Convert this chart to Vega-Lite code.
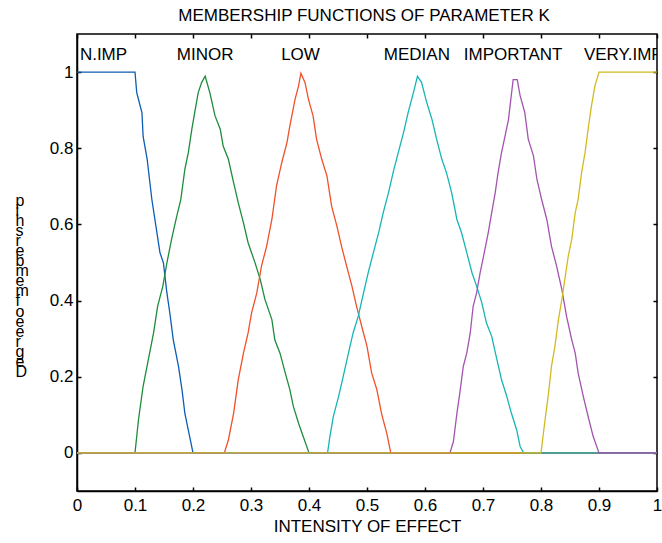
{
  "$schema": "https://vega.github.io/schema/vega-lite/v6.json",
  "width": 580,
  "height": 457,
  "autosize": "none",
  "padding": {"left": 77, "top": 34, "right": 5, "bottom": 52},
  "background": "#ffffff",
  "config": {
    "view": {"stroke": "#000000", "strokeWidth": 1.5},
    "font": "Liberation Sans",
    "axis": {
      "domainColor": "#000000", "domainWidth": 1.5,
      "tickColor": "#000000", "tickWidth": 1.5, "tickSize": -4,
      "labelColor": "#000000", "labelFontSize": 17, "labelFont": "Liberation Sans",
      "titleColor": "#000000", "titleFontSize": 17, "titleFontWeight": "normal", "titleFont": "Liberation Sans",
      "grid": false
    }
  },
  "title": {"text": "MEMBERSHIP FUNCTIONS OF PARAMETER K", "fontSize": 17, "fontWeight": "normal", "font": "Liberation Sans", "color": "#000000", "offset": 8, "dx": -3},
  "datasets": {
    "nimp": [
      {"x":0,"y":1},{"x":0.1,"y":1},{"x":0.103,"y":0.946},{"x":0.112,"y":0.893},{"x":0.114,"y":0.831},{"x":0.121,"y":0.771},{"x":0.129,"y":0.666},{"x":0.136,"y":0.596},{"x":0.143,"y":0.526},{"x":0.149,"y":0.499},{"x":0.155,"y":0.42},{"x":0.16,"y":0.368},{"x":0.166,"y":0.297},{"x":0.175,"y":0.227},{"x":0.181,"y":0.166},{"x":0.186,"y":0.104},{"x":0.193,"y":0.052},{"x":0.2,"y":0},{"x":1,"y":0}
    ],
    "minor": [
      {"x":0,"y":0},{"x":0.1,"y":0},{"x":0.106,"y":0.087},{"x":0.114,"y":0.175},{"x":0.123,"y":0.245},{"x":0.132,"y":0.315},{"x":0.139,"y":0.385},{"x":0.148,"y":0.438},{"x":0.155,"y":0.499},{"x":0.163,"y":0.561},{"x":0.172,"y":0.622},{"x":0.179,"y":0.666},{"x":0.186,"y":0.745},{"x":0.192,"y":0.789},{"x":0.198,"y":0.85},{"x":0.203,"y":0.894},{"x":0.209,"y":0.946},{"x":0.215,"y":0.973},{"x":0.221,"y":0.989},{"x":0.229,"y":0.946},{"x":0.238,"y":0.885},{"x":0.247,"y":0.85},{"x":0.252,"y":0.806},{"x":0.261,"y":0.771},{"x":0.27,"y":0.71},{"x":0.278,"y":0.657},{"x":0.287,"y":0.604},{"x":0.295,"y":0.552},{"x":0.307,"y":0.499},{"x":0.316,"y":0.455},{"x":0.324,"y":0.403},{"x":0.336,"y":0.35},{"x":0.341,"y":0.297},{"x":0.35,"y":0.262},{"x":0.359,"y":0.21},{"x":0.367,"y":0.166},{"x":0.373,"y":0.122},{"x":0.382,"y":0.078},{"x":0.39,"y":0.043},{"x":0.4,"y":0},{"x":1,"y":0}
    ],
    "low": [
      {"x":0,"y":0},{"x":0.254,"y":0},{"x":0.261,"y":0.034},{"x":0.27,"y":0.104},{"x":0.278,"y":0.192},{"x":0.287,"y":0.262},{"x":0.295,"y":0.315},{"x":0.301,"y":0.368},{"x":0.31,"y":0.42},{"x":0.318,"y":0.49},{"x":0.327,"y":0.543},{"x":0.336,"y":0.613},{"x":0.344,"y":0.701},{"x":0.353,"y":0.762},{"x":0.362,"y":0.815},{"x":0.367,"y":0.859},{"x":0.376,"y":0.929},{"x":0.382,"y":0.964},{"x":0.386,"y":0.997},{"x":0.393,"y":0.973},{"x":0.399,"y":0.929},{"x":0.407,"y":0.885},{"x":0.413,"y":0.824},{"x":0.422,"y":0.771},{"x":0.431,"y":0.727},{"x":0.439,"y":0.648},{"x":0.448,"y":0.596},{"x":0.456,"y":0.543},{"x":0.465,"y":0.49},{"x":0.474,"y":0.438},{"x":0.482,"y":0.385},{"x":0.491,"y":0.332},{"x":0.5,"y":0.28},{"x":0.508,"y":0.21},{"x":0.517,"y":0.166},{"x":0.525,"y":0.104},{"x":0.534,"y":0.052},{"x":0.541,"y":0},{"x":1,"y":0}
    ],
    "median": [
      {"x":0,"y":0},{"x":0.432,"y":0},{"x":0.436,"y":0.043},{"x":0.442,"y":0.096},{"x":0.451,"y":0.148},{"x":0.459,"y":0.201},{"x":0.468,"y":0.262},{"x":0.476,"y":0.315},{"x":0.485,"y":0.359},{"x":0.494,"y":0.42},{"x":0.502,"y":0.473},{"x":0.511,"y":0.526},{"x":0.52,"y":0.578},{"x":0.528,"y":0.631},{"x":0.537,"y":0.683},{"x":0.545,"y":0.736},{"x":0.554,"y":0.789},{"x":0.563,"y":0.841},{"x":0.571,"y":0.894},{"x":0.58,"y":0.946},{"x":0.587,"y":0.989},{"x":0.594,"y":0.973},{"x":0.603,"y":0.92},{"x":0.612,"y":0.876},{"x":0.62,"y":0.824},{"x":0.629,"y":0.771},{"x":0.637,"y":0.736},{"x":0.646,"y":0.683},{"x":0.655,"y":0.613},{"x":0.663,"y":0.578},{"x":0.672,"y":0.526},{"x":0.681,"y":0.473},{"x":0.689,"y":0.438},{"x":0.698,"y":0.394},{"x":0.706,"y":0.341},{"x":0.715,"y":0.306},{"x":0.724,"y":0.245},{"x":0.732,"y":0.192},{"x":0.741,"y":0.148},{"x":0.749,"y":0.104},{"x":0.758,"y":0.061},{"x":0.764,"y":0.017},{"x":0.77,"y":0},{"x":1,"y":0}
    ],
    "important": [
      {"x":0,"y":0},{"x":0.643,"y":0},{"x":0.649,"y":0.03},{"x":0.655,"y":0.104},{"x":0.66,"y":0.157},{"x":0.666,"y":0.227},{"x":0.672,"y":0.262},{"x":0.678,"y":0.315},{"x":0.683,"y":0.385},{"x":0.689,"y":0.42},{"x":0.695,"y":0.473},{"x":0.701,"y":0.517},{"x":0.709,"y":0.578},{"x":0.715,"y":0.631},{"x":0.721,"y":0.683},{"x":0.726,"y":0.736},{"x":0.732,"y":0.789},{"x":0.738,"y":0.832},{"x":0.744,"y":0.876},{"x":0.748,"y":0.929},{"x":0.752,"y":0.98},{"x":0.759,"y":0.98},{"x":0.764,"y":0.938},{"x":0.772,"y":0.894},{"x":0.778,"y":0.824},{"x":0.787,"y":0.78},{"x":0.793,"y":0.718},{"x":0.801,"y":0.666},{"x":0.81,"y":0.613},{"x":0.818,"y":0.543},{"x":0.827,"y":0.49},{"x":0.836,"y":0.429},{"x":0.844,"y":0.359},{"x":0.853,"y":0.297},{"x":0.859,"y":0.262},{"x":0.864,"y":0.21},{"x":0.873,"y":0.148},{"x":0.882,"y":0.091},{"x":0.89,"y":0.043},{"x":0.9,"y":0},{"x":1,"y":0}
    ],
    "veryimp": [
      {"x":0,"y":0},{"x":0.8,"y":0},{"x":0.807,"y":0.087},{"x":0.813,"y":0.157},{"x":0.818,"y":0.227},{"x":0.824,"y":0.28},{"x":0.83,"y":0.35},{"x":0.836,"y":0.403},{"x":0.841,"y":0.455},{"x":0.847,"y":0.517},{"x":0.853,"y":0.561},{"x":0.859,"y":0.631},{"x":0.864,"y":0.666},{"x":0.87,"y":0.736},{"x":0.876,"y":0.789},{"x":0.882,"y":0.859},{"x":0.887,"y":0.911},{"x":0.893,"y":0.964},{"x":0.9,"y":1},{"x":1,"y":1}
    ],
    "labels": [
      {"t":"N.IMP","x":0.005,"y":1.033},{"t":"MINOR","x":0.172,"y":1.033},{"t":"LOW","x":0.352,"y":1.033},{"t":"MEDIAN","x":0.529,"y":1.033},{"t":"IMPORTANT","x":0.667,"y":1.033},{"t":"VERY.IMP","x":0.874,"y":1.033}
    ]
  },
  "resolve": {"axis": {"x": "independent", "y": "independent"}},
  "layer": [
    {
      "data": {"name": "nimp"},
      "mark": {"type": "line", "color": "#0c5db5", "strokeWidth": 1.3},
      "encoding": {
        "x": {"field": "x", "type": "quantitative", "scale": {"domain": [0, 1], "nice": false},
              "axis": {"orient": "bottom", "values": [0,0.1,0.2,0.3,0.4,0.5,0.6,0.7,0.8,0.9,1], "format": "~g", "labelPadding": 10, "title": "INTENSITY OF EFFECT", "titlePadding": 5, "labelFlush": false, "labelOverlap": false}},
        "y": {"field": "y", "type": "quantitative", "scale": {"domain": [-0.1, 1.1], "nice": false, "zero": false},
              "axis": {"orient": "left", "values": [0,0.2,0.4,0.6,0.8,1], "format": "~g", "labelPadding": 8, "labelFlush": false, "labelOverlap": false,
                       "title": ["p","i","h","s","r","e","b","m","e","m","f","o","e","e","r","g","e","D"],
                       "titleAngle": 0, "titleAlign": "left", "titleBaseline": "alphabetic", "titleFontSize": 16, "titleLineHeight": 10.1, "titleX": -62, "titleY": 171}}
      }
    },
    {
      "data": {"name": "minor"},
      "mark": {"type": "line", "color": "#1e8c3c", "strokeWidth": 1.3},
      "encoding": {
        "x": {"field": "x", "type": "quantitative", "axis": {"orient": "top", "values": [0,0.1,0.2,0.3,0.4,0.5,0.6,0.7,0.8,0.9,1], "labels": false, "domain": false, "title": null}},
        "y": {"field": "y", "type": "quantitative", "axis": {"orient": "right", "values": [0,0.2,0.4,0.6,0.8,1], "labels": false, "domain": false, "title": null}}
      }
    },
    {
      "data": {"name": "low"},
      "mark": {"type": "line", "color": "#f2502a", "strokeWidth": 1.3},
      "encoding": {
        "x": {"field": "x", "type": "quantitative", "axis": null},
        "y": {"field": "y", "type": "quantitative", "axis": null}
      }
    },
    {
      "data": {"name": "median"},
      "mark": {"type": "line", "color": "#17b5b5", "strokeWidth": 1.3},
      "encoding": {
        "x": {"field": "x", "type": "quantitative", "axis": null},
        "y": {"field": "y", "type": "quantitative", "axis": null}
      }
    },
    {
      "data": {"name": "important"},
      "mark": {"type": "line", "color": "#a453b0", "strokeWidth": 1.3},
      "encoding": {
        "x": {"field": "x", "type": "quantitative", "axis": null},
        "y": {"field": "y", "type": "quantitative", "axis": null}
      }
    },
    {
      "data": {"name": "veryimp"},
      "mark": {"type": "line", "color": "#d1bb21", "strokeWidth": 1.3},
      "encoding": {
        "x": {"field": "x", "type": "quantitative", "axis": null},
        "y": {"field": "y", "type": "quantitative", "axis": null}
      }
    },
    {
      "data": {"name": "labels"},
      "mark": {"type": "text", "align": "left", "baseline": "alphabetic", "fontSize": 17, "font": "Liberation Sans", "color": "#000000", "clip": true},
      "encoding": {
        "x": {"field": "x", "type": "quantitative", "axis": null},
        "y": {"field": "y", "type": "quantitative", "axis": null},
        "text": {"field": "t", "type": "nominal"}
      }
    }
  ]
}
